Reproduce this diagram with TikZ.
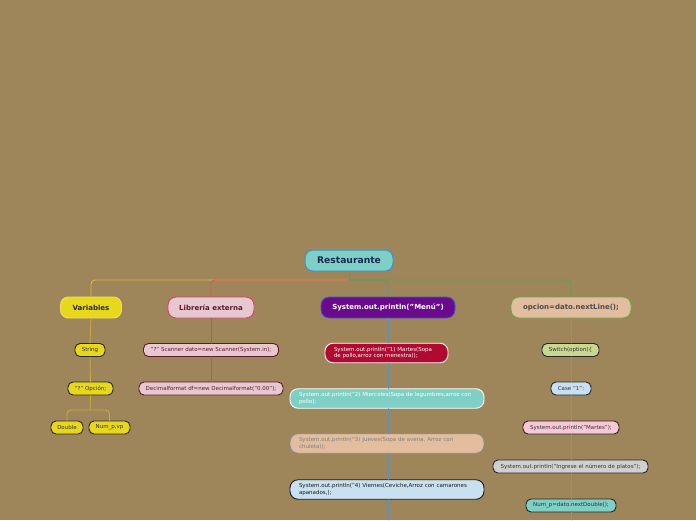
\documentclass[tikz,border=0pt]{standalone}
\usepackage{fontspec}
\setmainfont{DejaVu Sans}
\definecolor{bgcol}{HTML}{9E865A}
\definecolor{rootfill}{HTML}{7ECFC6}
\definecolor{rootdraw}{HTML}{3A94C8}
\definecolor{roottext}{HTML}{1A2A50}
\definecolor{varfill}{HTML}{E8D81C}
\definecolor{vardraw}{HTML}{F0E060}
\definecolor{libfill}{HTML}{E8C8D0}
\definecolor{libdraw}{HTML}{D8406A}
\definecolor{libtext}{HTML}{5A1A2A}
\definecolor{menufill}{HTML}{6A0A8C}
\definecolor{menudraw}{HTML}{3A5ED0}
\definecolor{opcfill}{HTML}{E2BE9E}
\definecolor{opcdraw}{HTML}{68A848}
\definecolor{opctext}{HTML}{4A4A4A}
\definecolor{redfill}{HTML}{B00A30}
\definecolor{bluefill}{HTML}{C8E0F0}
\definecolor{olivefill}{HTML}{C8D890}
\definecolor{pinkfill}{HTML}{F8C8D8}
\definecolor{grayfill}{HTML}{D0D0D0}
\definecolor{varline}{HTML}{E0BC30}
\definecolor{varsub}{HTML}{C8A840}
\definecolor{libline}{HTML}{E05050}
\definecolor{libsub}{HTML}{C85060}
\definecolor{menuline}{HTML}{4E9A96}
\definecolor{menusub}{HTML}{5A92B8}
\definecolor{opcline}{HTML}{5EA050}
\definecolor{opcsub}{HTML}{78A848}
\tikzset{
  map sheet/.style={
    x=1pt,
    y=-1pt,
    line cap=round,
    line join=round
  },
  map root/.style={
    draw=rootdraw,
    fill=rootfill,
    text=roottext,
    line width=1pt,
    rounded corners=8pt,
    minimum width=88pt,
    minimum height=21pt,
    inner sep=0pt,
    font=\fontsize{9.2}{10}\selectfont\bfseries
  },
  map topic/.style={
    line width=0.9pt,
    rounded corners=8pt,
    minimum height=21pt,
    inner sep=0pt,
    font=\fontsize{7}{8}\selectfont\bfseries
  },
  map leaf/.style={
    draw=black!85,
    line width=0.9pt,
    rounded corners=5pt,
    minimum height=13pt,
    inner sep=0pt,
    text=black!80,
    font=\fontsize{5.5}{6.5}\selectfont
  },
  map note/.style={
    line width=0.9pt,
    rounded corners=8pt,
    minimum height=19.5pt,
    inner xsep=9pt,
    inner ysep=0pt,
    align=left,
    font=\fontsize{5.5}{6.6}\selectfont
  },
  map link/.style={
    line width=0.9pt,
    rounded corners=4pt
  }
}

\begin{document}
\begin{tikzpicture}[map sheet]
  \fill[bgcol] (0,0) rectangle (696,520);
  \useasboundingbox (0,0) rectangle (696,520);

  % central topic
  \node[map root] (rest) at (349,260.5) {Restaurante};
  \coordinate (hub) at (349,280);

  % main branches
  \node[map topic, fill=varfill, draw=vardraw, text=black!85, minimum width=61pt] (vars) at (91,307.5) {Variables};
  \node[map topic, fill=libfill, draw=libdraw, text=libtext, minimum width=86pt] (lib) at (211,307.5) {Librería externa};
  \node[map topic, fill=menufill, draw=menudraw, text=white, minimum width=134pt] (menu) at (388,307.5) {System.out.println("Menú")};
  \node[map topic, fill=opcfill, draw=opcdraw, text=opctext, minimum width=120pt] (opc) at (571,307.5) {opcion=dato.nextLine();};

  % variables
  \node[map leaf, fill=varfill, minimum width=30pt] (str) at (90,350) {String};
  \node[map leaf, fill=varfill, minimum width=45pt] (opt) at (90.5,388.5) {"?" Opción;};
  \coordinate (split) at (90,410);
  \node[map leaf, fill=varfill, minimum width=32pt] (dbl) at (67,427.5) {Double};
  \node[map leaf, fill=varfill, minimum width=41pt] (nump) at (109.5,427.5) {Num\_p,vp};

  % libreria
  \node[map leaf, fill=libfill, draw=libtext, text=libtext, minimum width=135pt] (scan) at (211,350) {"?" Scanner dato=new Scanner(System.in);};
  \node[map leaf, fill=libfill, draw=libtext, text=libtext, minimum width=144pt] (dform) at (211,388.5) {Decimalformat df=new Decimalformat("0.00");};

  % menu
  \node[map note, fill=redfill, draw=white, text=white, minimum width=123pt, text width=105pt] (day1) at (386.5,353) {System.out.println("1) Martes(Sopa\\de pollo,arroz con menestra));};
  \node[map note, fill=rootfill, draw=white, text=white, minimum width=194pt, text width=176pt] (day2) at (387,398.5) {System.out.println("2) Miercoles(Sopa de legumbres,arroz con\\pollo);};
  \node[map note, fill=opcfill, draw=black!45, text=black!50, minimum width=194pt, text width=176pt] (day3) at (387,443.5) {System.out.println("3) Jueves(Sopa de avena, Arroz con\\chuleta));};
  \node[map note, fill=bluefill, draw=black!90, text=black!90, minimum width=194pt, text width=176pt] (day4) at (387,489.5) {System.out.println("4) Viernes(Ceviche,Arroz con camarones\\apanados,);};
  \coordinate (menuend) at (388,520);

  % opcion
  \node[map leaf, fill=olivefill, minimum width=57pt] (sw) at (570.5,350) {Switch(option)\{};
  \node[map leaf, fill=bluefill, minimum width=40pt] (case) at (571,388.5) {Case "1":};
  \node[map leaf, fill=pinkfill, minimum width=96pt] (mar) at (571,427.5) {System.out.println("Martes");};
  \node[map leaf, fill=grayfill, minimum width=155pt] (ing) at (570.5,466.5) {System.out.println("Ingrese el número de platos");};
  \node[map leaf, fill=rootfill, minimum width=90pt] (numd) at (571,505.5) {Num\_p=dato.nextDouble();};
  \coordinate (opcend) at (571,520);

  % connectors
  \draw[map link, varline] (hub) -| (vars.north);
  \draw[map link, libline] (hub) -| (lib.north);
  \draw[map link, menuline] (hub) -| (menu.north);
  \draw[map link, opcline] (hub) -| (opc.north);
  \draw[map link, opcline] (rest.south) -- (hub);

  \draw[map link, varsub] (vars.south) -- (str.north);
  \draw[map link, varsub] (str.south) -- (opt.north);
  \draw[map link, varsub] (opt.south) -- (split);
  \draw[map link, varsub] (split) -| (dbl.north);
  \draw[map link, varsub] (split) -| (nump.north);

  \draw[map link, libsub] (lib.south) -- (scan.north);
  \draw[map link, libsub] (scan.south) -- (dform.north);

  \draw[map link, menusub] (menu.south) -- (day1.north -| menu.south);
  \draw[map link, menusub] (day1.south -| menu.south) -- (day2.north -| menu.south);
  \draw[map link, menusub] (day2.south -| menu.south) -- (day3.north -| menu.south);
  \draw[map link, menusub] (day3.south -| menu.south) -- (day4.north -| menu.south);
  \draw[map link, menusub] (day4.south -| menu.south) -- (menuend);

  \draw[map link, opcsub] (opc.south) -- (sw.north -| opc.south);
  \draw[map link, opcsub] (sw.south -| opc.south) -- (case.north -| opc.south);
  \draw[map link, opcsub] (case.south -| opc.south) -- (mar.north -| opc.south);
  \draw[map link, opcsub] (mar.south -| opc.south) -- (ing.north -| opc.south);
  \draw[map link, opcsub] (ing.south -| opc.south) -- (numd.north -| opc.south);
  \draw[map link, opcsub] (numd.south -| opc.south) -- (opcend);
\end{tikzpicture}
\end{document}
